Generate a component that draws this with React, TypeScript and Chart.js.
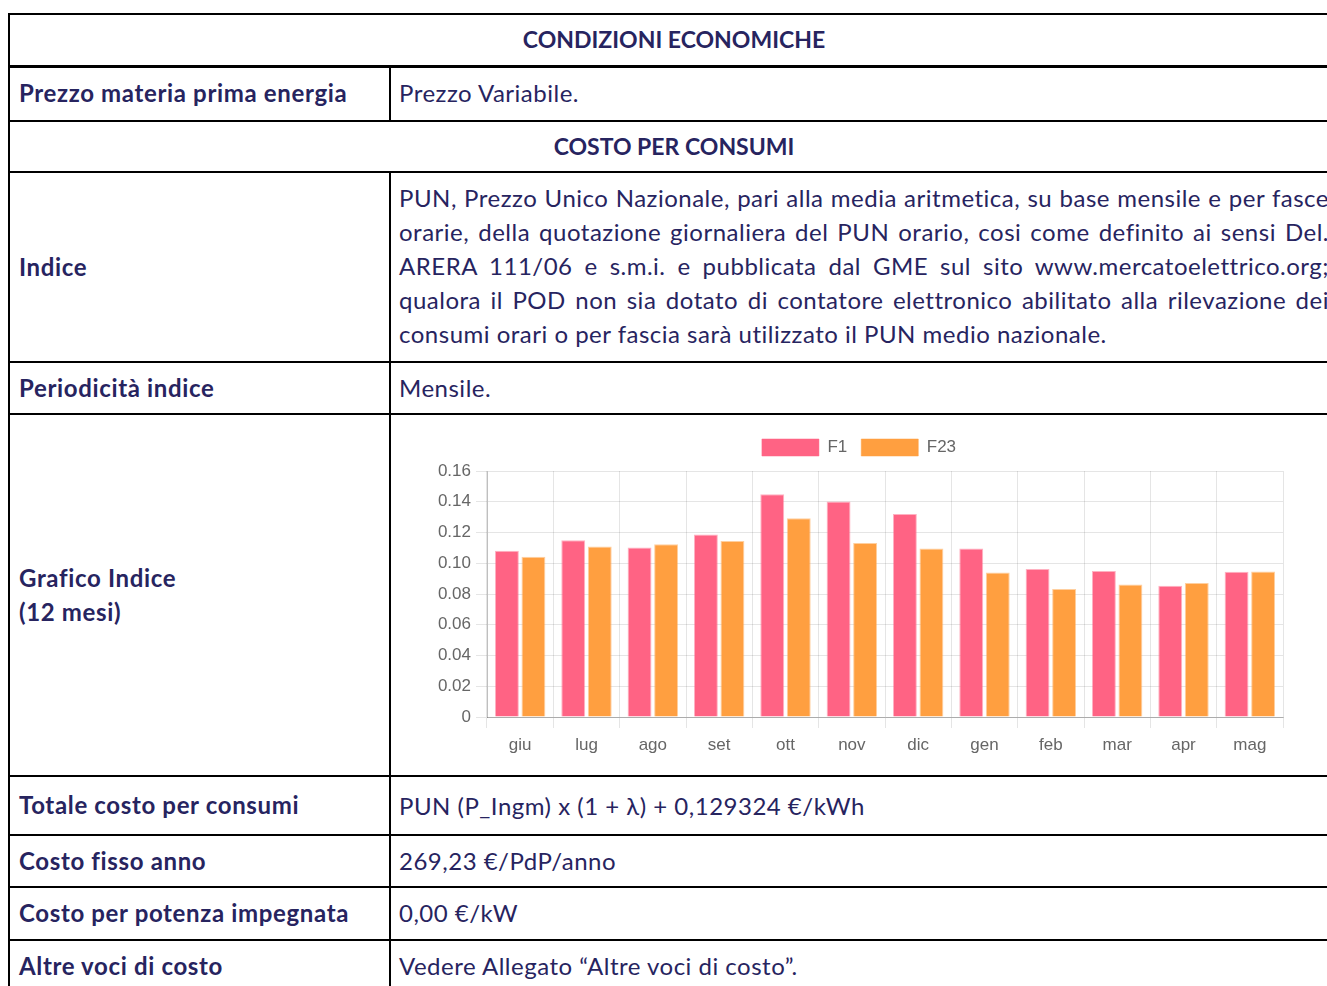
import React, { useEffect, useRef } from 'react';
import { Chart, registerables } from 'chart.js';

Chart.register(...registerables);

// ---- chart data ----
const months = ['giu', 'lug', 'ago', 'set', 'ott', 'nov', 'dic', 'gen', 'feb', 'mar', 'apr', 'mag'];
const seriesF1 = [0.1081, 0.115, 0.1102, 0.1187, 0.1449, 0.1401, 0.1321, 0.1096, 0.0962, 0.0949, 0.0854, 0.0945];
const seriesF23 = [0.1042, 0.1109, 0.1124, 0.1144, 0.1293, 0.1131, 0.1096, 0.094, 0.0833, 0.0861, 0.0872, 0.0947];
const seriesNames = ['F1', 'F23'];
const yMax = 0.16;
const yStep = 0.02;

// ---- table text ----
const titleMain = 'CONDIZIONI ECONOMICHE';
const titleCosts = 'COSTO PER CONSUMI';
const indiceLines = [
  'PUN, Prezzo Unico Nazionale, pari alla media aritmetica, su base mensile e per fasce',
  'orarie, della quotazione giornaliera del PUN orario, cosi come definito ai sensi Del.',
  'ARERA 111/06 e s.m.i. e pubblicata dal GME sul sito www.mercatoelettrico.org;',
  'qualora il POD non sia dotato di contatore elettronico abilitato alla rilevazione dei',
  'consumi orari o per fascia sarà utilizzato il PUN medio nazionale.',
];

const NAVY = '#27245f';
const FONT = 'Lato, "Open Sans", sans-serif';
const FONT_SIZE = 24;
const LETTER = '0.5px';
const LETTER_BOLD = '0.65px';
const CHART_FONT = '"Liberation Sans", Arial, Helvetica, sans-serif';

const legendSpacer = {
  id: 'legendSpacer',
  beforeInit(chart: any) {
    const orig = chart.legend.fit;
    chart.legend.fit = function () {
      orig.bind(this)();
      this.height += 5;
    };
  },
};

function BarChart() {
  const ref = useRef<HTMLCanvasElement | null>(null);
  useEffect(() => {
    if (!ref.current) return;
    const chart = new Chart(ref.current, {
      type: 'bar',
      data: {
        labels: months,
        datasets: [
          {
            label: seriesNames[0],
            data: seriesF1,
            backgroundColor: 'rgb(255,99,132)',
            borderColor: 'rgba(255,99,132,0.5)',
            borderWidth: 1,
          },
          {
            label: seriesNames[1],
            data: seriesF23,
            backgroundColor: 'rgb(255,159,64)',
            borderColor: 'rgba(255,159,64,0.5)',
            borderWidth: 1,
          },
        ],
      },
      plugins: [legendSpacer],
      options: {
        animation: false,
        responsive: false,
        maintainAspectRatio: false,
        layout: { padding: { top: 10, right: 44, left: 44, bottom: 0 } },
        plugins: {
          legend: {
            position: 'top',
            labels: {
              boxWidth: 57,
              boxHeight: 17,
              padding: 14,
              color: '#666',
              font: { size: 17, family: CHART_FONT },
            },
          },
          tooltip: { enabled: false },
        },
        scales: {
          x: {
            grid: { color: 'rgba(0,0,0,0.1)', tickLength: 11, offset: true },
            border: { color: 'rgba(0,0,0,0.25)' },
            ticks: { color: '#666', font: { size: 17, family: CHART_FONT }, padding: 7, maxRotation: 0, autoSkip: false },
            afterFit: (s: any) => { s.height = 58; },
          },
          y: {
            min: 0,
            max: yMax,
            grid: { color: 'rgba(0,0,0,0.1)', tickLength: 11 },
            border: { color: 'rgba(0,0,0,0.25)' },
            ticks: {
              stepSize: yStep,
              color: '#666',
              font: { size: 17, family: CHART_FONT },
              padding: 5,
              callback: (v: any) => (Number(v) === 0 ? '0' : Number(v).toFixed(2)),
            },
            afterFit: (s: any) => { s.width = 52; },
          },
        },
      },
    });
    return () => chart.destroy();
  }, []);
  return <canvas ref={ref} width={936} height={360} style={{ display: 'block' }} />;
}

const hLines: [number, number][] = [
  [13, 2], [65, 3], [120, 2], [171, 2], [361, 2], [413, 2], [775, 2], [834, 2], [886, 2], [939, 2],
];

function Box(props: { left: number; top: number; width: number; height: number; center?: boolean; bold?: boolean; children: any; pad?: number }) {
  const { left, top, width, height, center, bold, children, pad } = props;
  return (
    <div
      style={{
        position: 'absolute',
        left,
        top,
        width,
        height,
        display: 'flex',
        alignItems: 'center',
        justifyContent: center ? 'center' : 'flex-start',
        paddingLeft: center ? 0 : pad ?? 9,
        boxSizing: 'border-box',
        fontFamily: FONT,
        fontSize: center ? 23 : FONT_SIZE,
        letterSpacing: center ? 0 : bold ? LETTER_BOLD : LETTER,
        fontWeight: bold ? 700 : 400,
        color: NAVY,
        lineHeight: '34px',
        whiteSpace: 'nowrap',
      }}
    >
      {children}
    </div>
  );
}

export default function App() {
  const LX = 10;
  const MX = 391;
  const RX = 1338;
  return (
    <div style={{ position: 'absolute', left: 0, top: 0, width: 1327, height: 986, overflow: 'hidden', background: '#fff' }}>
      {hLines.map(([y, t], i) => (
        <div key={i} style={{ position: 'absolute', left: 8, top: y, width: RX - 8, height: t, background: '#000' }} />
      ))}
      <div style={{ position: 'absolute', left: 8, top: 13, width: 2, height: 990, background: '#000' }} />
      <div style={{ position: 'absolute', left: 389, top: 65, width: 2, height: 57, background: '#000' }} />
      <div style={{ position: 'absolute', left: 389, top: 171, width: 2, height: 830, background: '#000' }} />

      <Box left={LX} top={14} width={RX - LX} height={50} center bold>{titleMain}</Box>
      <Box left={LX} top={67} width={MX - 2 - LX} height={52} bold>Prezzo materia prima energia</Box>
      <Box left={MX} top={67} width={RX - MX} height={52} pad={8}>Prezzo Variabile.</Box>
      <Box left={LX} top={121} width={RX - LX} height={49} center bold>{titleCosts}</Box>

      <Box left={LX} top={173} width={MX - 2 - LX} height={188} bold>Indice</Box>
      <div style={{ position: 'absolute', left: 399, top: 172, width: 930, height: 188, display: 'flex', flexDirection: 'column', justifyContent: 'center', fontFamily: FONT, fontSize: FONT_SIZE, letterSpacing: LETTER, color: NAVY, lineHeight: '34px' }}>
        {indiceLines.map((l, i) => (
          <div
            key={i}
            style={{
              whiteSpace: 'nowrap',
              textAlign: i < indiceLines.length - 1 ? 'justify' : 'left',
              textAlignLast: i < indiceLines.length - 1 ? 'justify' : 'left',
            } as any}
          >
            {l}
          </div>
        ))}
      </div>

      <Box left={LX} top={363} width={MX - 2 - LX} height={49} bold>Periodicità indice</Box>
      <Box left={MX} top={363} width={RX - MX} height={49} pad={8}>Mensile.</Box>

      <Box left={LX} top={415} width={MX - 2 - LX} height={360} bold>
        <div>Grafico Indice<br />(12 mesi)</div>
      </Box>
      <div style={{ position: 'absolute', left: MX, top: 415 }}>
        <BarChart />
      </div>

      <Box left={LX} top={777} width={MX - 2 - LX} height={55} bold>Totale costo per consumi</Box>
      <Box left={MX} top={777} width={RX - MX} height={58} pad={8}>PUN (P_Ingm) x (1 + λ) + 0,129324 €/kWh</Box>
      <Box left={LX} top={836} width={MX - 2 - LX} height={49} bold>Costo fisso anno</Box>
      <Box left={MX} top={836} width={RX - MX} height={49} pad={8}>269,23 €/PdP/anno</Box>
      <Box left={LX} top={888} width={MX - 2 - LX} height={49} bold>Costo per potenza impegnata</Box>
      <Box left={MX} top={888} width={RX - MX} height={49} pad={8}>0,00 €/kW</Box>
      <Box left={LX} top={941} width={MX - 2 - LX} height={49} bold>Altre voci di costo</Box>
      <Box left={MX} top={941} width={RX - MX} height={49} pad={8}>Vedere Allegato “Altre voci di costo”.</Box>
    </div>
  );
}
